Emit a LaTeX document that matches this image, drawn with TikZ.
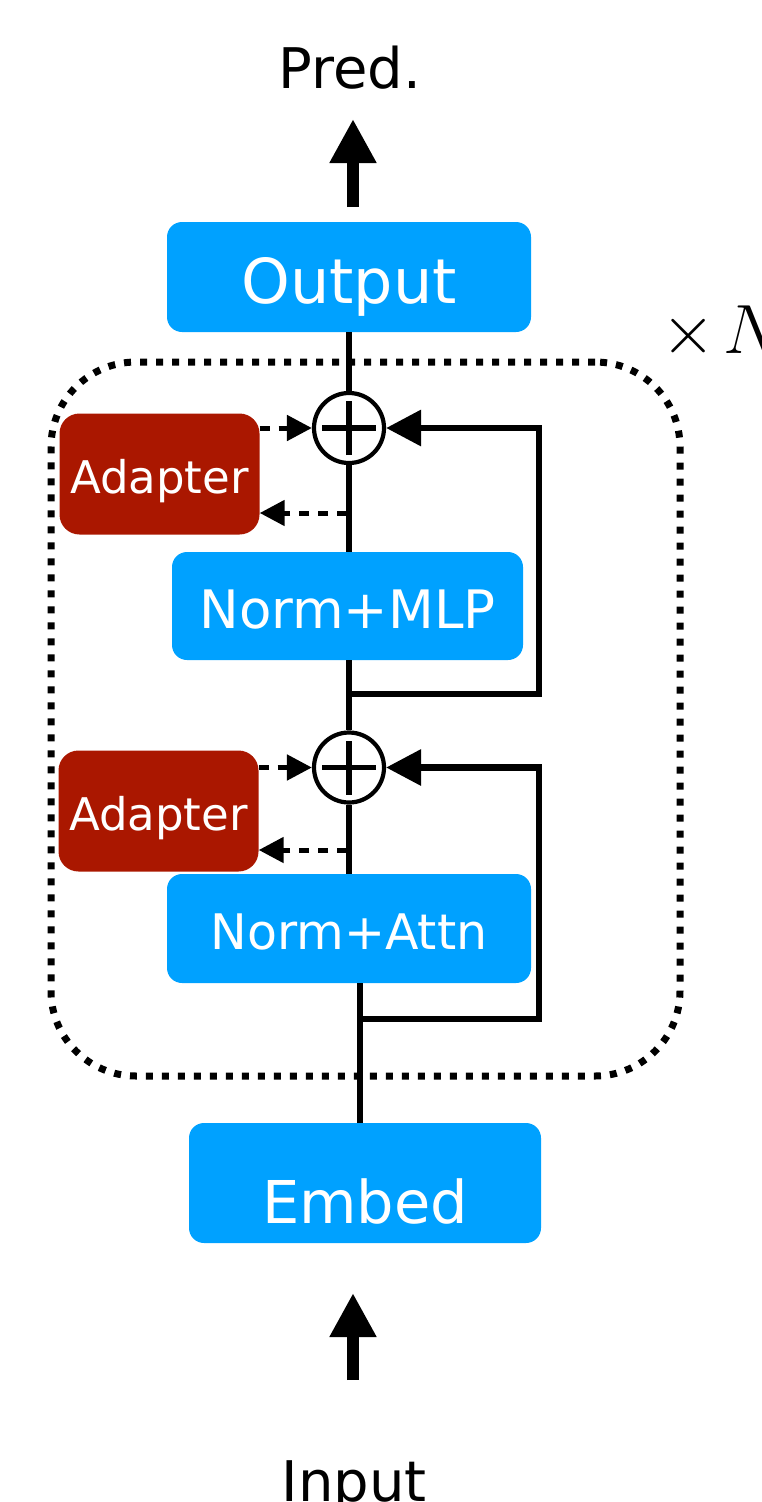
\documentclass[tikz,border=0pt]{standalone}
\usepackage{graphicx}
\usepackage{fontspec}
\setmainfont{DejaVu Sans}
\usetikzlibrary{arrows.meta}
\definecolor{blockblue}{RGB}{0,161,255}
\definecolor{adapterred}{RGB}{170,23,0}

\begin{document}
\begin{tikzpicture}[x=1pt,y=-1pt,
  block/.style={fill=blockblue, rounded corners=15pt, inner sep=0pt, text=white, text depth=0pt},
  adapterbox/.style={fill=adapterred, rounded corners=20pt, inner sep=0pt, text=white, text depth=0pt,
    minimum width=200pt, minimum height=121pt, text height=38pt, font=\fontsize{45pt}{50pt}\selectfont},
  wire/.style={line width=6.5pt},
  sumnode/.style={circle, draw, line width=4.2pt, minimum size=70pt, inner sep=0pt},
  plusbar/.style={line width=5.8pt},
  skiparrow/.style={wire, -{Triangle[length=35pt,width=35pt]}},
  tapline/.style={line width=5pt, dash pattern=on 10pt off 9pt, -{Triangle[length=25pt,width=25pt]}},
  bigarrow/.style={line width=12pt, -{Triangle[length=44pt,width=44pt]}},
  frame/.style={draw, line width=7pt, dash pattern=on 7pt off 9pt, rounded corners=85pt, inner sep=0pt},
  caption/.style={anchor=base, font=\fontsize{56pt}{60pt}\selectfont}
]
\useasboundingbox (0,0) rectangle (762,1502);

% repeated block outline
\node[frame, minimum width=629pt, minimum height=714pt] (rep) at (365.5,719) {};
\node[anchor=base west, inner sep=0pt, font=\fontsize{24.88pt}{30pt}\selectfont] (times) at (661,353) {\scalebox{2.8}{$\times\mkern2mu N$}};

% main blocks
\node[block, font=\fontsize{62pt}{70pt}\selectfont, minimum width=364pt, minimum height=110pt, text height=52pt] (out) at (349,277) {Output};
\node[block, font=\fontsize{53pt}{60pt}\selectfont, minimum width=351pt, minimum height=108pt, text height=44pt] (mlp) at (347.5,606) {Norm+MLP};
\node[block, font=\fontsize{49pt}{55pt}\selectfont, minimum width=364pt, minimum height=109pt, text height=41pt] (attn) at (349,928.5) {Norm+Attn};
\node[block, font=\fontsize{59pt}{65pt}\selectfont, minimum width=352pt, minimum height=120pt, text height=80pt] (emb) at (365,1183) {Embed};

% adapters
\node[adapterbox] (ad1) at (159.5,474) {Adapter};
\node[adapterbox] (ad2) at (158.5,811) {Adapter};

% residual sums
\node[sumnode] (p1) at (349,428) {};
\node[sumnode] (p2) at (349,767.5) {};
\foreach \p in {p1,p2}{
  \draw[plusbar] ([xshift=-27pt]\p.center) -- ([xshift=27pt]\p.center);
  \draw[plusbar] ([yshift=-27pt]\p.center) -- ([yshift=27pt]\p.center);
}

% captions
\node[caption] (pred) at (350,88) {Pred.};
\node[caption] (inp) at (354,1501) {Input};

% skip junctions and corners
\coordinate (r1) at (349,694);
\coordinate (c1a) at (539,694);
\coordinate (c1b) at (539,428);
\coordinate (r2) at (360,1019);
\coordinate (c2a) at (539,1019);
\coordinate (c2b) at (539,767.5);
\coordinate (t1) at (347,513);
\coordinate (t2) at (347,850);

% main path
\draw[wire] (out.south) -- (p1.north);
\draw[wire] (p1.south) -- (p1.south |- mlp.north);
\draw[wire] (p1.south |- mlp.south) -- (p2.north);
\draw[wire] (p2.south) -- (attn.north);
\draw[wire] (attn.south -| r2) -- (emb.north -| r2);

% skip connections
\draw[skiparrow] (r1) -- (c1a) -- (c1b) -- (p1.east);
\draw[skiparrow] (r2) -- (c2a) -- (c2b) -- (p2.east);

% adapter taps
\draw[tapline] (ad1.east |- p1) -- (p1.west);
\draw[tapline] (t1) -- (t1 -| ad1.east);
\draw[tapline] (ad2.east |- p2) -- (p2.west);
\draw[tapline] (t2) -- (t2 -| ad2.east);

% input and prediction arrows
\coordinate (predtail) at (353,207);
\coordinate (predtip) at (353,119);
\coordinate (inptail) at (353,1380);
\coordinate (inptip) at (353,1293);
\draw[bigarrow] (predtail) -- (predtip);
\draw[bigarrow] (inptail) -- (inptip);
\end{tikzpicture}
\end{document}
